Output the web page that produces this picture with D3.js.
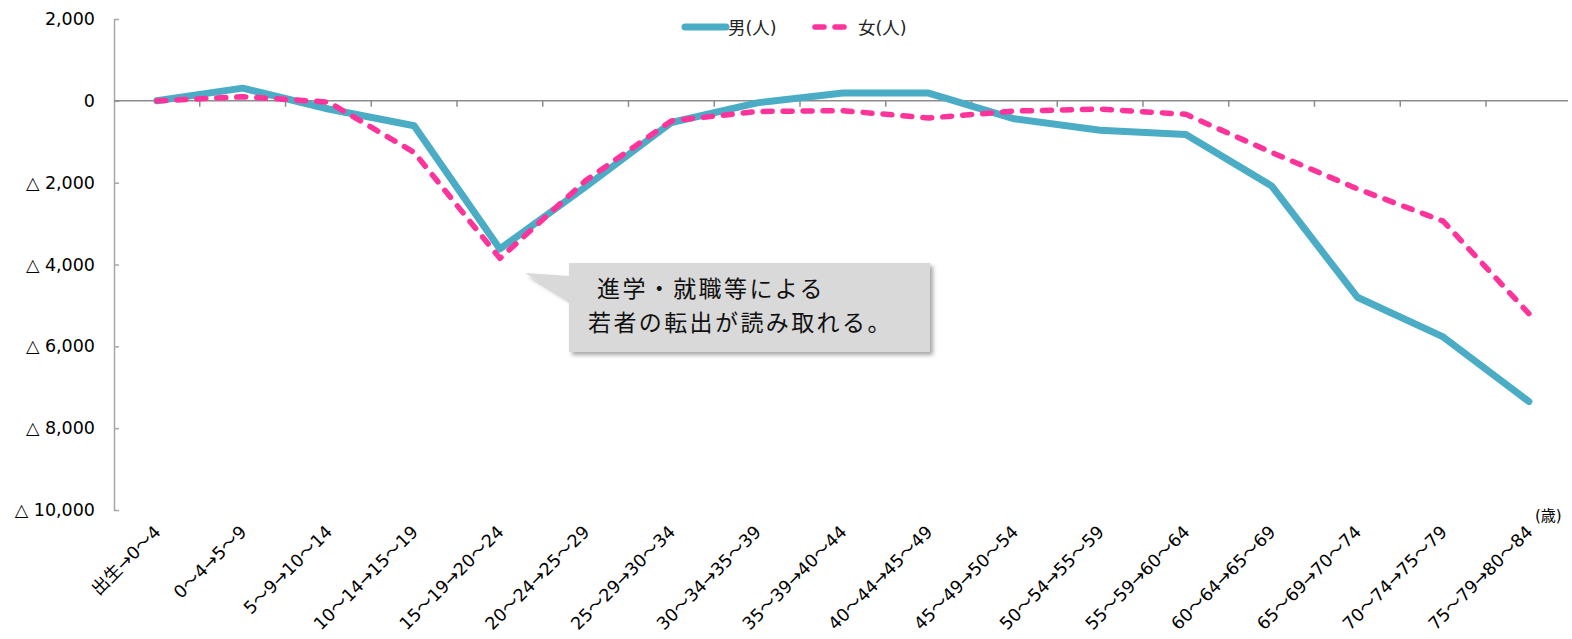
<!DOCTYPE html>
<html>
<head>
<meta charset="utf-8">
<script src="https://cdn.jsdelivr.net/npm/d3@7"></script>
<style>
  body { margin: 0; background: #fff; }
  svg { display: block; font-family: "DejaVu Sans", "Noto Sans CJK JP", sans-serif; }
</style>
</head>
<body>
<div class="chart"></div>
<script>
  // age groups (from -> to)
  var categories = ['出生→0～4', '0～4→5～9', '5～9→10～14', '10～14→15～19',
                    '15～19→20～24', '20～24→25～29', '25～29→30～34',
                    '30～34→35～39', '35～39→40～44', '40～44→45～49',
                    '45～49→50～54', '50～54→55～59', '55～59→60～64',
                    '60～64→65～69', '65～69→70～74', '70～74→75～79',
                    '75～79→80～84'];
  var male = [0, 310, -200, -610, -3620, -2100, -530, -50, 190, 190,
              -440, -720, -820, -2080, -4800, -5770, -7350];
  var female = [0, 100, -30, -1260, -3850, -1950, -490, -260, -240, -420,
                -250, -200, -330, -1260, -2150, -2940, -5200];
  var yTicks = [2000, 0, -2000, -4000, -6000, -8000, -10000];
  var seriesNames = ['男(人)', '女(人)'];
  var note = ['進学・就職等による', '若者の転出が読み取れる。'];

  var width = 1572, height = 639;
  var maleColor = '#4bacc6', femaleColor = '#ff3399';

  var svg = d3.select('.chart').append('svg')
    .attr('width', width)
    .attr('height', height);

  var x = d3.scaleBand()
    .domain(categories)
    .range([114, 114 + 17 * 85.75]);
  var y = d3.scaleLinear()
    .domain([-10000, 2000])
    .range([510, 19]);

  var fmt = function(v) {
    if (v < 0) {
      return '△ ' + d3.format(',')(-v);
    }
    return d3.format(',')(v);
  };

  // y axis, ticks pointing inward
  var yAxis = svg.append('g')
    .attr('transform', 'translate(114,0)')
    .call(d3.axisLeft(y).tickValues(yTicks).tickFormat(fmt)
      .tickSizeInner(-5).tickSizeOuter(0).tickPadding(19));
  yAxis.select('.domain').attr('stroke', '#a6a6a6').attr('stroke-width', 1.5);
  yAxis.selectAll('.tick line').attr('stroke', '#a6a6a6').attr('stroke-width', 1.5);
  yAxis.selectAll('.tick text')
    .attr('font-size', '17.5px')
    .attr('fill', '#000')
    .attr('font-family', '"DejaVu Sans", sans-serif');

  // x axis on zero line, ticks at category boundaries
  var x0 = y(0);
  svg.append('line')
    .attr('x1', 114).attr('x2', 1568)
    .attr('y1', x0).attr('y2', x0)
    .attr('stroke', '#8c8c8c').attr('stroke-width', 1.5);
  var bounds = categories.slice(1).map(function(c) { return x(c); });
  svg.selectAll('.xtick')
    .data(bounds)
    .enter().append('line')
    .attr('class', 'xtick')
    .attr('x1', function(d) { return d; })
    .attr('x2', function(d) { return d; })
    .attr('y1', x0).attr('y2', x0 + 6)
    .attr('stroke', '#8c8c8c').attr('stroke-width', 1.5);

  svg.selectAll('.xlabel')
    .data(categories)
    .enter().append('text')
    .attr('class', 'xlabel')
    .attr('text-anchor', 'end')
    .attr('font-size', '17.5px')
    .attr('fill', '#000')
    .attr('transform', function(d) {
      return 'translate(' + (x(d) + x.bandwidth() / 2 + 5) + ',533) rotate(-45)';
    })
    .text(function(d) { return d; });

  svg.append('text')
    .attr('x', 1535).attr('y', 521)
    .attr('font-size', '15px')
    .attr('fill', '#000')
    .text('(歳)');

  // lines
  var line = d3.line()
    .x(function(d, i) { return x(categories[i]) + x.bandwidth() / 2; })
    .y(function(d) { return y(d); });

  svg.append('path')
    .datum(male)
    .attr('d', line)
    .attr('fill', 'none')
    .attr('stroke', maleColor)
    .attr('stroke-width', 7)
    .attr('stroke-linecap', 'round')
    .attr('stroke-linejoin', 'round');

  svg.append('path')
    .datum(female)
    .attr('d', line)
    .attr('fill', 'none')
    .attr('stroke', femaleColor)
    .attr('stroke-width', 5.5)
    .attr('stroke-dasharray', '9,11')
    .attr('stroke-linecap', 'round')
    .attr('stroke-linejoin', 'round');

  // legend
  var legend = svg.append('g');
  legend.append('line')
    .attr('x1', 685).attr('x2', 726).attr('y1', 27).attr('y2', 27)
    .attr('stroke', maleColor).attr('stroke-width', 7)
    .attr('stroke-linecap', 'round');
  legend.append('text')
    .attr('x', 728).attr('y', 34)
    .attr('font-size', '17.5px').attr('fill', '#222')
    .text(seriesNames[0]);
  legend.append('line')
    .attr('x1', 815).attr('x2', 855).attr('y1', 27).attr('y2', 27)
    .attr('stroke', femaleColor).attr('stroke-width', 5.5)
    .attr('stroke-dasharray', '9,11')
    .attr('stroke-linecap', 'round');
  legend.append('text')
    .attr('x', 858).attr('y', 34)
    .attr('font-size', '17.5px').attr('fill', '#222')
    .text(seriesNames[1]);

  // callout
  var defs = svg.append('defs');
  var filter = defs.append('filter').attr('id', 'shadow')
    .attr('x', '-10%').attr('y', '-10%').attr('width', '130%').attr('height', '140%');
  filter.append('feDropShadow')
    .attr('dx', 3).attr('dy', 3).attr('stdDeviation', 2)
    .attr('flood-color', '#000').attr('flood-opacity', 0.35);

  var callout = svg.append('g').attr('filter', 'url(#shadow)');
  callout.append('path')
    .attr('d', 'M569,263 H930 V352 H569 V300 L525,273 L569,276 Z')
    .attr('fill', '#d9d9d9');

  var noteStyle = function(t) {
    t.attr('font-size', '23px')
      .attr('letter-spacing', '2.4px')
      .attr('font-family', '"Noto Sans CJK JP", sans-serif')
      .attr('fill', '#111');
  };
  svg.append('text').call(noteStyle)
    .attr('x', 597).attr('y', 297)
    .text(note[0]);
  svg.append('text').call(noteStyle)
    .attr('x', 588).attr('y', 331)
    .text(note[1]);
</script>
</body>
</html>
